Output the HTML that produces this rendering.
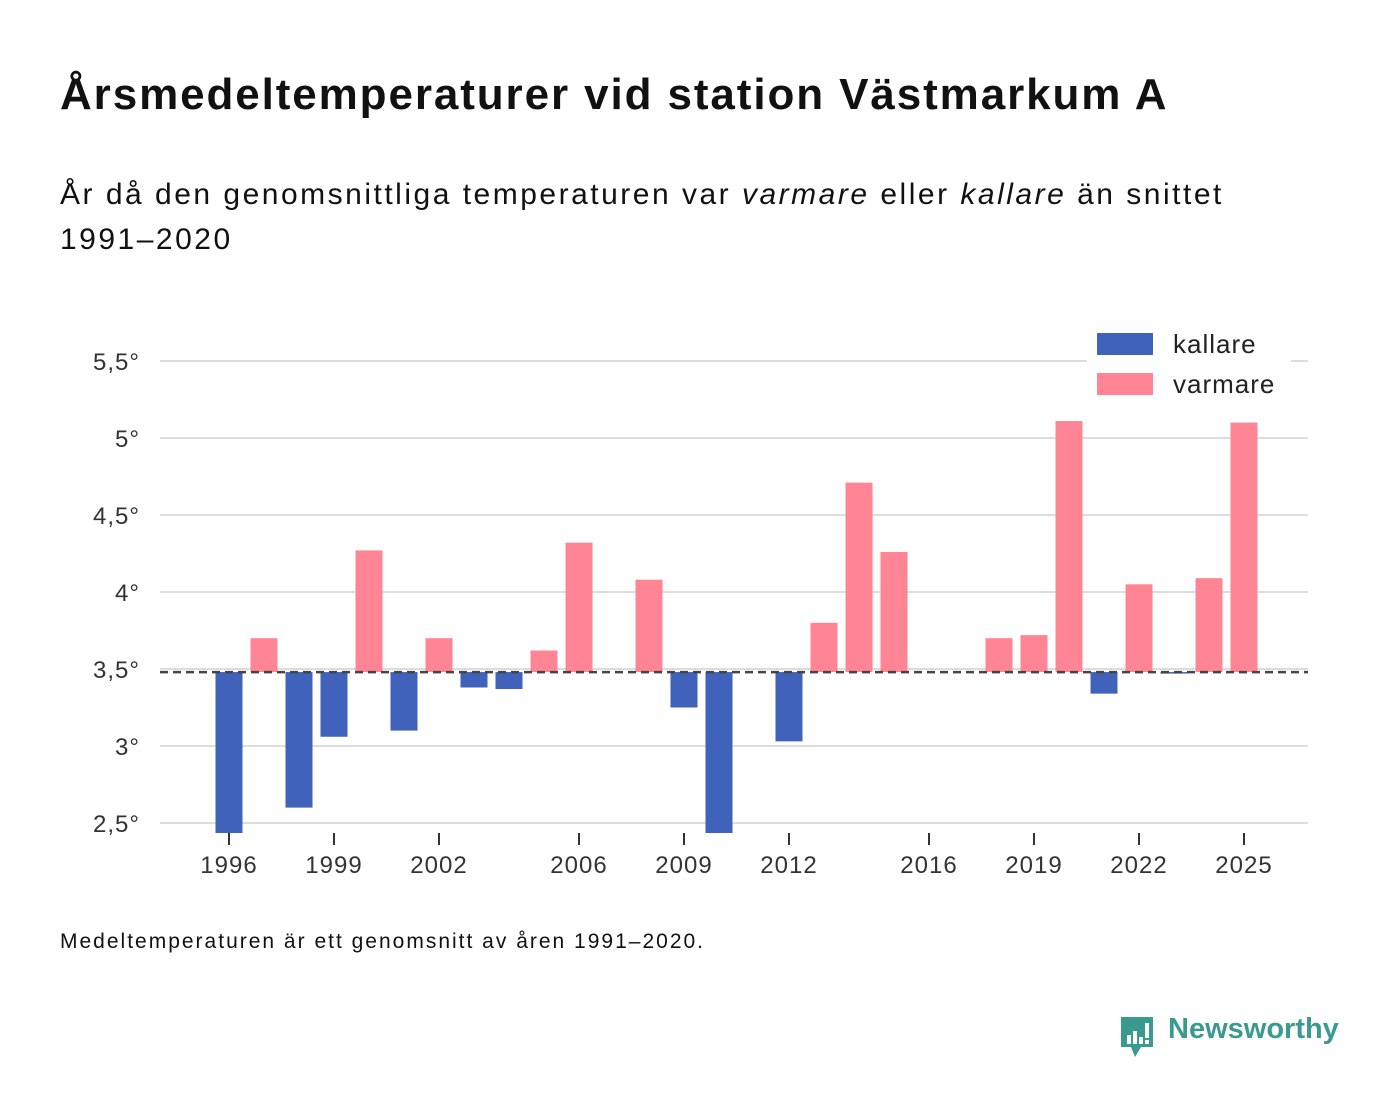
<!DOCTYPE html>
<html><head><meta charset="utf-8"><style>
body{margin:0;background:#fff;font-family:"Liberation Sans",sans-serif;color:#111;}
#wrap{position:relative;width:1400px;height:1116px;overflow:hidden;}
.t{position:absolute;white-space:nowrap;}
</style></head><body>
<div id="wrap">
<div class="t" style="left:60px;top:70px;font-size:44px;font-weight:bold;letter-spacing:1.9px;">Årsmedeltemperaturer vid station Västmarkum A</div>
<div class="t" style="left:60px;top:172px;font-size:30px;line-height:45px;letter-spacing:2.5px;">År då den genomsnittliga temperaturen var <i>varmare</i> eller <i>kallare</i> än snittet<br>1991–2020</div>
<svg id="chart" width="1400" height="900" style="position:absolute;left:0;top:0"></svg>
<div class="t" style="left:60px;top:930px;font-size:21px;letter-spacing:2px;">Medeltemperaturen är ett genomsnitt av åren 1991–2020.</div>
<div style="position:absolute;left:1119px;top:1013px;">
<svg width="36" height="44" style="position:absolute;left:0;top:2px"><path d="M2 2h32v30H22l-6 10-4-10H2z" fill="#3a9a8f"/><rect x="8" y="20" width="4" height="9" fill="#fff"/><rect x="14" y="16" width="4" height="13" fill="#fff"/><rect x="20" y="22" width="4" height="7" fill="#fff"/><rect x="26" y="8" width="4" height="15" fill="#fff"/><rect x="26" y="25" width="4" height="4" fill="#fff"/></svg>
<div class="t" style="left:49px;top:0px;font-size:29px;font-weight:bold;color:#3a9a8f;">Newsworthy</div>
</div>
</div>
<script>
const years=[1996,1997,1998,1999,2000,2001,2002,2003,2004,2005,2006,2007,2008,2009,2010,2011,2012,2013,2014,2015,2016,2017,2018,2019,2020,2021,2022,2023,2024,2025];
const temps=[2.43,3.70,2.60,3.06,4.27,3.10,3.70,3.38,3.37,3.62,4.32,3.48,4.08,3.25,2.43,3.48,3.03,3.80,4.71,4.26,3.48,3.48,3.70,3.72,5.11,3.34,4.05,3.47,4.09,5.10];
const baseline=3.48;
const yTicks=[2.5,3,3.5,4,4.5,5,5.5];
const yTickLabels=["2,5°","3°","3,5°","4°","4,5°","5°","5,5°"];
const xTicks=[1996,1999,2002,2006,2009,2012,2016,2019,2022,2025];
const ns="http://www.w3.org/2000/svg";
const svg=document.getElementById('chart');
const y=v=>669-(v-3.5)*154;
const x=yr=>229+(yr-1996)*35;
const yMin=2.435,plotL=160,plotR=1308;
function mk(t,a){const e=document.createElementNS(ns,t);for(const k in a)e.setAttribute(k,a[k]);svg.appendChild(e);return e;}
yTicks.forEach((v,i)=>{
 const g=mk('line',{x1:plotL,x2:plotR,y1:y(v),y2:y(v),stroke:'#ddd','stroke-width':2});
 
 
 const t=mk('text',{x:140,y:y(v)+9,'text-anchor':'end','font-size':24,fill:'#333','font-family':'Liberation Sans, sans-serif','letter-spacing':1});
 t.textContent=yTickLabels[i];
 
 
});
years.forEach((yr,i)=>{
 const v=Math.max(temps[i],yMin);
 const top=Math.min(y(v),y(baseline)),h=Math.abs(y(v)-y(baseline));
 if(h<0.5)return;
 const r=mk('rect',{x:x(yr)-13.5,y:top,width:27,height:h,fill:temps[i]>=baseline?'#ff8595':'#4062bb'});
 
 
});
const bl=mk('line',{x1:plotL,x2:plotR,y1:y(baseline),y2:y(baseline),stroke:'#444','stroke-width':2.5,'stroke-dasharray':'8,5'});


xTicks.forEach(yr=>{
 const l=mk('line',{x1:x(yr),x2:x(yr),y1:833,y2:845,stroke:'#333','stroke-width':2});
 
 
 const t=mk('text',{x:x(yr),y:873,'text-anchor':'middle','font-size':24,fill:'#333','font-family':'Liberation Sans, sans-serif','letter-spacing':1});
 t.textContent=yr;
 
 
});
const lb=mk('rect',{x:1087,y:323,width:204,height:84,fill:'#fff'});


[['kallare','#4062bb',333],['varmare','#ff8595',373]].forEach(([n,c,yy])=>{
 const r=mk('rect',{x:1097,y:yy,width:56,height:22,fill:c});
 
 
 const t=mk('text',{x:1173,y:yy+20,'font-size':26,fill:'#222','font-family':'Liberation Sans, sans-serif','letter-spacing':1});
 t.textContent=n;
 
 
});
</script>
</body></html>
